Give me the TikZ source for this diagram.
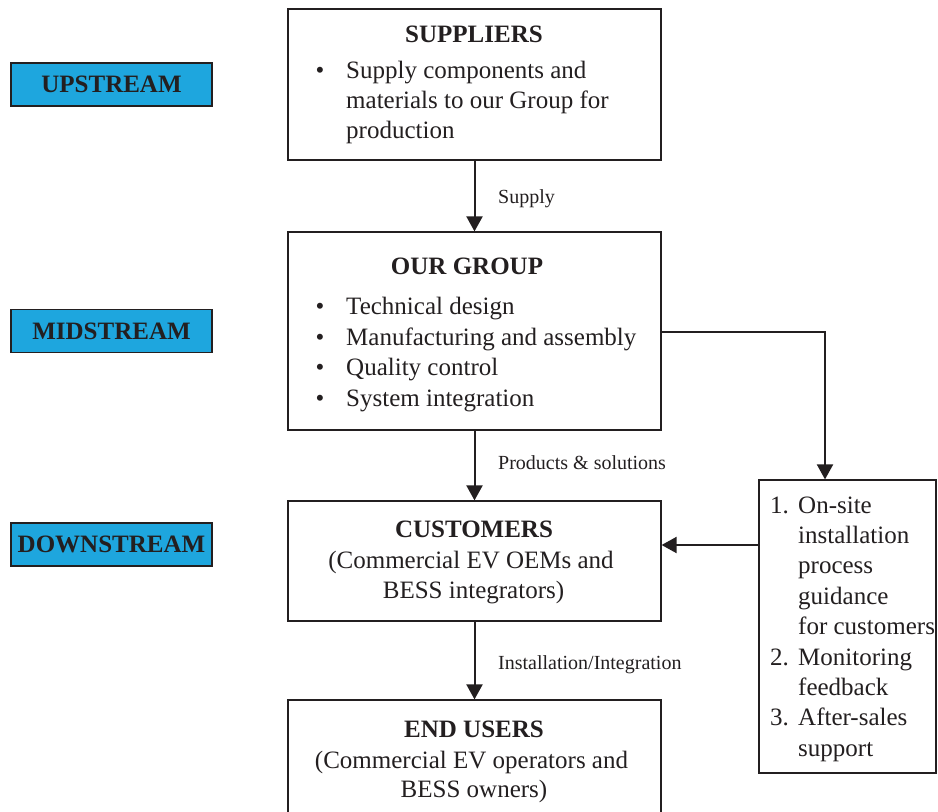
\documentclass[tikz,border=0pt]{standalone}
\usepackage{fontspec}
\setmainfont{Liberation Serif}
\usetikzlibrary{arrows.meta}
\definecolor{streamblue}{RGB}{30,166,222}
\definecolor{ink}{RGB}{35,31,32}
\newcommand{\bodyfont}{\fontsize{25}{30.4}\selectfont}
\newcommand{\labfont}{\fontsize{20}{24}\selectfont}
\tikzset{
  box/.style={draw=ink, line width=1.2pt, rectangle, inner sep=0pt},
  stream/.style={draw=ink, line width=1.2pt, fill=streamblue, rectangle, inner sep=0pt,
     minimum width=201pt, minimum height=43pt, font=\bodyfont\bfseries, text=ink},
  txt/.style={anchor=base west, inner sep=0pt, font=\bodyfont, text=ink},
  ctxt/.style={anchor=base, inner sep=0pt, font=\bodyfont, text=ink},
  ttl/.style={anchor=base, inner sep=0pt, font=\bodyfont\bfseries, text=ink},
  lab/.style={anchor=base west, inner sep=0pt, font=\labfont, text=ink},
  arr/.style={draw=ink, line width=2pt, -{Triangle[width=16pt,length=15pt]}},
}
\begin{document}
\begin{tikzpicture}[x=1pt,y=-1pt]
\clip (0,0) rectangle (938,812);
\fill[white] (0,0) rectangle (938,812);
% stream labels
\node[stream] (up) at (111.5,84.5) {UPSTREAM};
\node[stream] (mid) at (111.5,331) {MIDSTREAM};
\node[stream] (down) at (111.5,544.5) {DOWNSTREAM};
% main boxes
\node[box, minimum width=373pt, minimum height=151pt] (sup) at (474.5,84.5) {};
\node[box, minimum width=373pt, minimum height=198pt] (grp) at (474.5,331) {};
\node[box, minimum width=373pt, minimum height=120pt] (cus) at (474.5,561) {};
\node[box, minimum width=373pt, minimum height=130pt] (end) at (474.5,765) {};
\node[box, minimum width=177pt, minimum height=293pt] (svc) at (847.5,626.5) {};
% suppliers text
\node[ttl] (supt) at (474,42) {SUPPLIERS};
\node[ctxt] (supb) at (320,78) {•};
\node[txt] (sup1) at (346,78) {Supply components and};
\node[txt] (sup2) at (346,108) {materials to our Group for};
\node[txt] (sup3) at (346,138) {production};
% our group text
\node[ttl] (grpt) at (467,274) {OUR GROUP};
\node[ctxt] (gb1) at (320,314) {•};
\node[ctxt] (gb2) at (320,345) {•};
\node[ctxt] (gb3) at (320,375) {•};
\node[ctxt] (gb4) at (320,406) {•};
\node[txt] (g1) at (346,314) {Technical design};
\node[txt] (g2) at (346,345) {Manufacturing and assembly};
\node[txt] (g3) at (346,375) {Quality control};
\node[txt] (g4) at (346,406) {System integration};
% customers text
\node[ttl] (cust) at (474,537) {CUSTOMERS};
\node[ctxt] (cus1) at (471,568) {(Commercial EV OEMs and};
\node[ctxt] (cus2) at (473.5,598) {BESS integrators)};
% end users text
\node[ttl] (endt) at (474,737) {END USERS};
\node[ctxt] (end1) at (471.5,768) {(Commercial EV operators and};
\node[ctxt] (end2) at (474,797) {BESS owners)};
% services text
\node[txt] (n1) at (770,513) {1.};
\node[txt] (s1) at (798,513) {On-site};
\node[txt] (s2) at (798,543.4) {installation};
\node[txt] (s3) at (798,573.8) {process};
\node[txt] (s4) at (798,604.2) {guidance};
\node[txt] (s5) at (798,634.6) {for customers};
\node[txt] (n2) at (770,665) {2.};
\node[txt] (s6) at (798,665) {Monitoring};
\node[txt] (s7) at (798,695.4) {feedback};
\node[txt] (n3) at (770,725.8) {3.};
\node[txt] (s8) at (798,725.8) {After-sales};
\node[txt] (s9) at (798,756.2) {support};
% connectors
\draw[arr] (sup.south) -- (grp.north);
\draw[arr] (grp.south) -- (cus.north);
\draw[arr] (cus.south) -- (end.north);
\coordinate (bend) at (825,332);
\draw[arr] (grp.east |- bend) -- (bend) -- (bend |- svc.north);
\coordinate (sv) at (759,545);
\draw[arr] (svc.west |- sv) -- (cus.east |- sv);
% connector labels
\node[lab] (l1) at (498,203) {Supply};
\node[lab] (l2) at (498,469) {Products \& solutions};
\node[lab] (l3) at (498,669) {Installation/Integration};
\end{tikzpicture}
\end{document}
